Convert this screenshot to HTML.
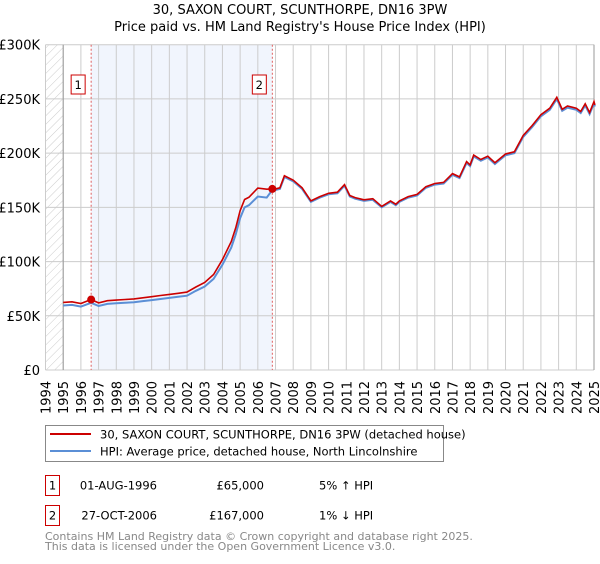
<!DOCTYPE html>
<html><head><meta charset="utf-8"><style>
body{margin:0;background:#fff;font-family:"DejaVu Sans","Liberation Sans",sans-serif;}
svg text{font-family:"DejaVu Sans","Liberation Sans",sans-serif;}
</style></head><body>
<svg id="chart" width="600" height="560" viewBox="0 0 600 560" xmlns="http://www.w3.org/2000/svg">
<defs><pattern id="hatch" width="6" height="6" patternUnits="userSpaceOnUse" patternTransform="rotate(45)"><line x1="0" y1="0" x2="0" y2="6" stroke="#ccc" stroke-width="1"/></pattern></defs>
<text x="300" y="14" text-anchor="middle" font-size="13" fill="#000">30, SAXON COURT, SCUNTHORPE, DN16 3PW</text>
<text x="300" y="31" text-anchor="middle" font-size="13" fill="#000">Price paid vs. HM Land Registry's House Price Index (HPI)</text>
<g id="plot"></g>
<g>
<rect x="45.5" y="425.5" width="398" height="36" fill="#fff" stroke="#888"/>
<line x1="50" y1="434" x2="91" y2="434" stroke="#cc0000" stroke-width="2"/>
<text x="100" y="438.5" font-size="11.5">30, SAXON COURT, SCUNTHORPE, DN16 3PW (detached house)</text>
<line x1="50" y1="451" x2="91" y2="451" stroke="#5b8fd6" stroke-width="2"/>
<text x="100" y="455.5" font-size="11.5">HPI: Average price, detached house, North Lincolnshire</text>
</g>
<g>
<rect x="45.5" y="475.5" width="14" height="20" fill="#fff" stroke="#cc0000"/>
<text x="52.5" y="489.5" font-size="11.5" text-anchor="middle">1</text>
<text x="157" y="489.5" font-size="11.5" text-anchor="end">01-AUG-1996</text>
<text x="264" y="489.5" font-size="11.5" text-anchor="end">£65,000</text>
<text x="319" y="489.5" font-size="11.5">5% ↑ HPI</text>
</g>
<g>
<rect x="45.5" y="505.5" width="14" height="20" fill="#fff" stroke="#cc0000"/>
<text x="52.5" y="519.5" font-size="11.5" text-anchor="middle">2</text>
<text x="157" y="519.5" font-size="11.5" text-anchor="end">27-OCT-2006</text>
<text x="264" y="519.5" font-size="11.5" text-anchor="end">£167,000</text>
<text x="319" y="519.5" font-size="11.5">1% ↓ HPI</text>
</g>
<text x="45" y="540" font-size="11" fill="#888">Contains HM Land Registry data © Crown copyright and database right 2025.</text>
<text x="45" y="550" font-size="11" fill="#888">This data is licensed under the Open Government Licence v3.0.</text>
</svg>
<script>
const hpiDates=[1995,1995.5,1996,1996.58,1997,1997.5,1998,1998.5,1999,1999.5,2000,2000.5,2001,2001.5,2002,2002.5,2003,2003.5,2004,2004.5,2004.75,2005,2005.25,2005.5,2006,2006.5,2006.82,2007,2007.25,2007.5,2008,2008.5,2009,2009.5,2010,2010.5,2010.9,2011.2,2011.5,2012,2012.5,2013,2013.5,2013.8,2014,2014.5,2015,2015.5,2016,2016.5,2017,2017.4,2017.8,2018,2018.2,2018.6,2019,2019.4,2019.7,2020,2020.5,2021,2021.5,2022,2022.5,2022.9,2023.2,2023.5,2024,2024.25,2024.5,2024.75,2025,2025.05];
const hpiValues=[59.5,60,58.5,62,59,61,61.5,62,62.5,63.5,64.5,65.5,66.5,67.5,68.5,73,77,84,97,113,125,140,150,152,160,159,166,166,167,178,174,167,155,159,162,163,170,160,158,156,157,150,155,152,155,159,161,168,171,172,180,177,191,188,197,193,196,190,194,198,200,215,224,234,240,250,239,242,240,237,244,236,246,243];
const saleDates=[1996.58,2006.82];
const salePrices=[65,167];
const yTicks=[0,50,100,150,200,250,300];
const yTickLabels=["£0","£50K","£100K","£150K","£200K","£250K","£300K"];
const xYears=[1994,1995,1996,1997,1998,1999,2000,2001,2002,2003,2004,2005,2006,2007,2008,2009,2010,2011,2012,2013,2014,2015,2016,2017,2018,2019,2020,2021,2022,2023,2024,2025];

const NS="http://www.w3.org/2000/svg";
const L=45.5,R=594,T=44.7,B=370;
const xS=y=>L+(y-1994)*(R-L)/31;
const yS=v=>B-v*(B-T)/300;
const g=document.getElementById('plot');
function mk(t,a){const e=document.createElementNS(NS,t);for(const k in a)e.setAttribute(k,a[k]);g.appendChild(e);return e;}
function hpiAt(d){for(let i=0;i<hpiDates.length-1;i++){if(d>=hpiDates[i]&&d<=hpiDates[i+1]){const f=(d-hpiDates[i])/(hpiDates[i+1]-hpiDates[i]);return hpiValues[i]+f*(hpiValues[i+1]-hpiValues[i]);}}return hpiValues[hpiValues.length-1];}

let e=mk('rect',{x:L,y:T,width:xS(1995)-L,height:B-T,fill:'url(#hatch)'});


e=mk('rect',{x:xS(saleDates[0]),y:T,width:xS(saleDates[1])-xS(saleDates[0]),height:B-T,fill:'#eef3fc',opacity:0.8});


yTicks.forEach((v,i)=>{
  const l=mk('line',{x1:L,x2:R,y1:yS(v),y2:yS(v),stroke:'#ccc','stroke-width':1});
  
  
  const t=mk('text',{x:40,y:yS(v)+5,'text-anchor':'end','font-size':13});
  t.textContent=yTickLabels[i];
  
  
});
xYears.forEach(yr=>{
  const l=mk('line',{x1:xS(yr),x2:xS(yr),y1:T,y2:B,stroke:'#ccc','stroke-width':1});
  
  
  const x=xS(yr)+5,y=414;
  const t=mk('text',{x:x,y:y,'font-size':13,transform:`rotate(-90 ${x} ${y})`});
  t.textContent=yr;
  
  
});
e=mk('line',{x1:xS(1995),x2:xS(1995),y1:T,y2:B,stroke:'#999','stroke-width':1});


e=mk('line',{x1:R,x2:R,y1:T,y2:B,stroke:'#999','stroke-width':1});


saleDates.forEach((d,i)=>{
  const l=mk('line',{x1:xS(d),x2:xS(d),y1:T,y2:B,stroke:'#e06060','stroke-width':1,'stroke-dasharray':'2,2'});
  
  
  const r=mk('rect',{x:xS(d)-20,y:75,width:14,height:19,fill:'#fff',stroke:'#cc0000'});
  
  
  const t=mk('text',{x:xS(d)-13,y:89,'text-anchor':'middle','font-size':11.5});
  t.textContent=i+1;
  
  
});
let bp='',rp='';
hpiDates.forEach((d,i)=>{
  const v=hpiValues[i];
  const k=d<saleDates[1]?salePrices[0]/hpiAt(saleDates[0]):salePrices[1]/hpiAt(saleDates[1]);
  bp+=(i?'L':'M')+xS(d).toFixed(1)+','+yS(v).toFixed(1);
  rp+=(i?'L':'M')+xS(d).toFixed(1)+','+yS(v*k).toFixed(1);
});
e=mk('path',{d:bp,fill:'none',stroke:'#5b8fd6','stroke-width':2});


e=mk('path',{d:rp,fill:'none',stroke:'#cc0000','stroke-width':1.6});


saleDates.forEach((d,i)=>{
  const c=mk('circle',{cx:xS(d),cy:yS(salePrices[i]),r:4,fill:'#cc0000'});
  
  
});
</script>
</body></html>
